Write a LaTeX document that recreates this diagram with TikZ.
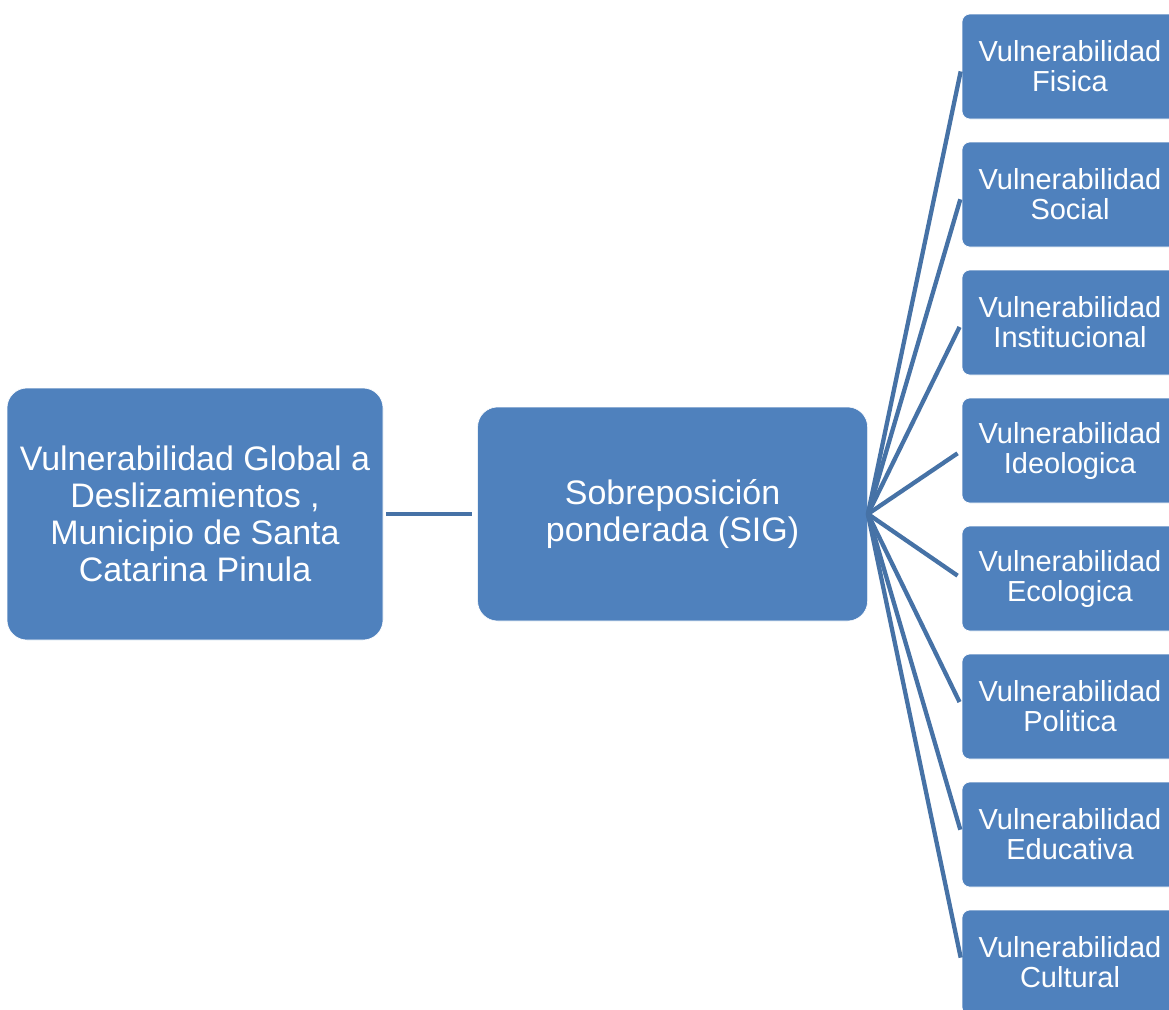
\documentclass[tikz,border=0pt]{standalone}
\usepackage{fontspec}
\setmainfont{Liberation Sans}
\usepackage{tikz}
\usetikzlibrary{positioning}
\definecolor{boxblue}{RGB}{79,129,189}
\definecolor{linkblue}{RGB}{70,114,166}

\begin{document}
\begin{tikzpicture}[
        x=1pt, y=1pt,
        node distance=22.4pt,
        bigbox/.style={draw=white, line width=0.6pt, rounded corners=20pt, fill=boxblue,
                    text=white, align=center, font=\fontsize{34}{37}\selectfont},
        sidebox/.style={draw=white, line width=0.6pt, rounded corners=8pt, fill=boxblue,
                    text=white, align=center, minimum width=216pt, minimum height=105pt,
                    font=\fontsize{29}{30}\selectfont},
        link/.style={line width=4.3pt, draw=linkblue}
    ]
        \useasboundingbox (0,0) rectangle (1169,-1009);
        \node[bigbox, minimum width=376pt, minimum height=252pt] (glob) at (195,-514)
            {Vulnerabilidad Global a\\Deslizamientos ,\\Municipio de Santa\\Catarina Pinula};
        \node[bigbox, minimum width=390pt, minimum height=214pt, right=94pt of glob] (sob)
            {Sobreposición\\ponderada (SIG)};

        \node[sidebox] (fis) at (1070,-66.5) {Vulnerabilidad\\Fisica};
        \node[sidebox, below=of fis] (soc) {Vulnerabilidad\\Social};
        \node[sidebox, below=of soc] (inst) {Vulnerabilidad\\Institucional};
        \node[sidebox, below=of inst] (ideo) {Vulnerabilidad\\Ideologica};
        \node[sidebox, below=of ideo] (eco) {Vulnerabilidad\\Ecologica};
        \node[sidebox, below=of eco] (pol) {Vulnerabilidad\\Politica};
        \node[sidebox, below=of pol] (edu) {Vulnerabilidad\\Educativa};
        \node[sidebox, below=of edu] (cult) {Vulnerabilidad\\Cultural};

        \draw[link, shorten <=3pt, shorten >=5pt] (glob) -- (sob);
        \foreach \n in {fis,soc,inst,ideo,eco,pol,edu,cult}
            \draw[link, shorten >=5pt] (sob.east) -- (\n.west);
    \end{tikzpicture}
\end{document}
